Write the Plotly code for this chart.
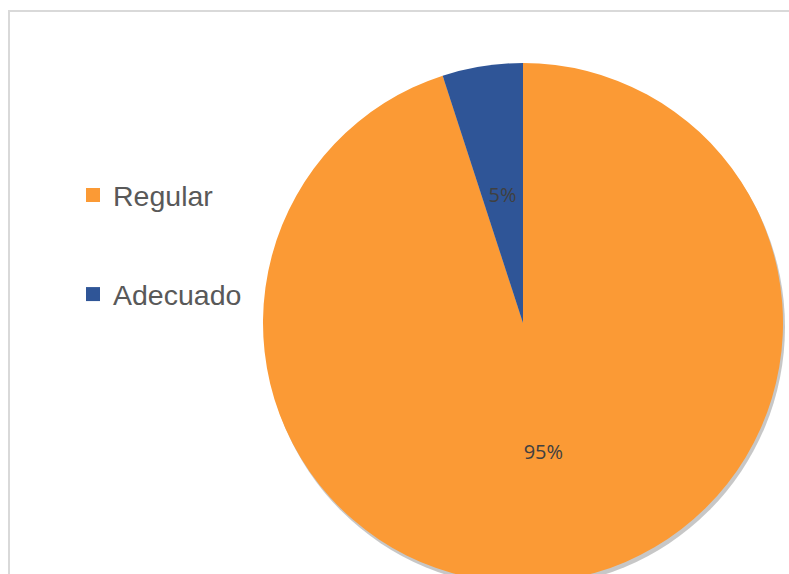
import plotly.graph_objects as go

# Data
categories = ["Regular", "Adecuado"]
values = [95, 5]
colors = ["#FB9A35", "#2F5597"]

W, H = 789, 600
cx, cy, R = 523, 323, 260
r_lbl = 151  # radius of the transparent overlay that places the small-slice label

def px_domain(x0, x1, y0, y1):
    return dict(x=[x0 / W, x1 / W], y=[1 - y1 / H, 1 - y0 / H])

lbl_font = dict(family="Open Sans", size=20, color="#404040")

fig = go.Figure()

# soft shadow under the pie
fig.add_trace(go.Pie(
    labels=["shadow"], values=[1], sort=False,
    marker=dict(colors=["rgba(0,0,0,0.22)"], line=dict(width=0)),
    textinfo="none", hoverinfo="skip", showlegend=False,
    domain=px_domain(cx - R + 2, cx + R + 2, cy - R + 4, cy + R + 4),
))

# main pie (large slice label)
fig.add_trace(go.Pie(
    labels=categories, values=values, sort=False,
    direction="clockwise", rotation=0,
    marker=dict(colors=colors, line=dict(width=0)),
    texttemplate=["%{percent}", ""], textposition="inside",
    insidetextorientation="horizontal",
    textfont=lbl_font,
    showlegend=False,
    domain=px_domain(cx - R, cx + R, cy - R, cy + R),
))

# transparent overlay (small slice label placed nearer the centre)
fig.add_trace(go.Pie(
    labels=categories, values=values, sort=False,
    direction="clockwise", rotation=0,
    marker=dict(colors=["rgba(0,0,0,0)", "rgba(0,0,0,0)"], line=dict(width=0)),
    texttemplate=["", "%{percent}"], textposition="inside",
    insidetextorientation="horizontal",
    textfont=lbl_font, hoverinfo="skip",
    showlegend=False,
    domain=px_domain(cx - r_lbl, cx + r_lbl, cy - r_lbl, cy + r_lbl),
))

# legend entries
for i, (lab, col) in enumerate(zip(categories, colors)):
    fig.add_trace(go.Scatter(
        x=[None], y=[None], mode="markers", name=lab,
        marker=dict(symbol="square", size=14, color=col),
        legendgroup=f"g{i}", showlegend=True,
    ))

fig.update_layout(
    width=W, height=H,
    margin=dict(l=0, r=0, t=0, b=0),
    paper_bgcolor="white", plot_bgcolor="white",
    xaxis=dict(visible=False), yaxis=dict(visible=False),
    legend=dict(
        x=73 / W, y=1 - 170 / H, xanchor="left", yanchor="top",
        font=dict(family="Liberation Sans", size=28.5, color="#595959"),
        traceorder="grouped", tracegroupgap=59,
        bgcolor="rgba(0,0,0,0)",
    ),
    shapes=[dict(
        type="rect", xref="paper", yref="paper",
        x0=9 / W, x1=1.05, y0=-0.05, y1=1 - 11 / H,
        line=dict(color="#D9D9D9", width=2), layer="below",
    )],
)

fig.write_html(
    "out.html",
    config={"displayModeBar": False},
    post_script="document.body.style.margin='0';document.body.style.overflow='hidden';document.documentElement.style.overflow='hidden';",
)
